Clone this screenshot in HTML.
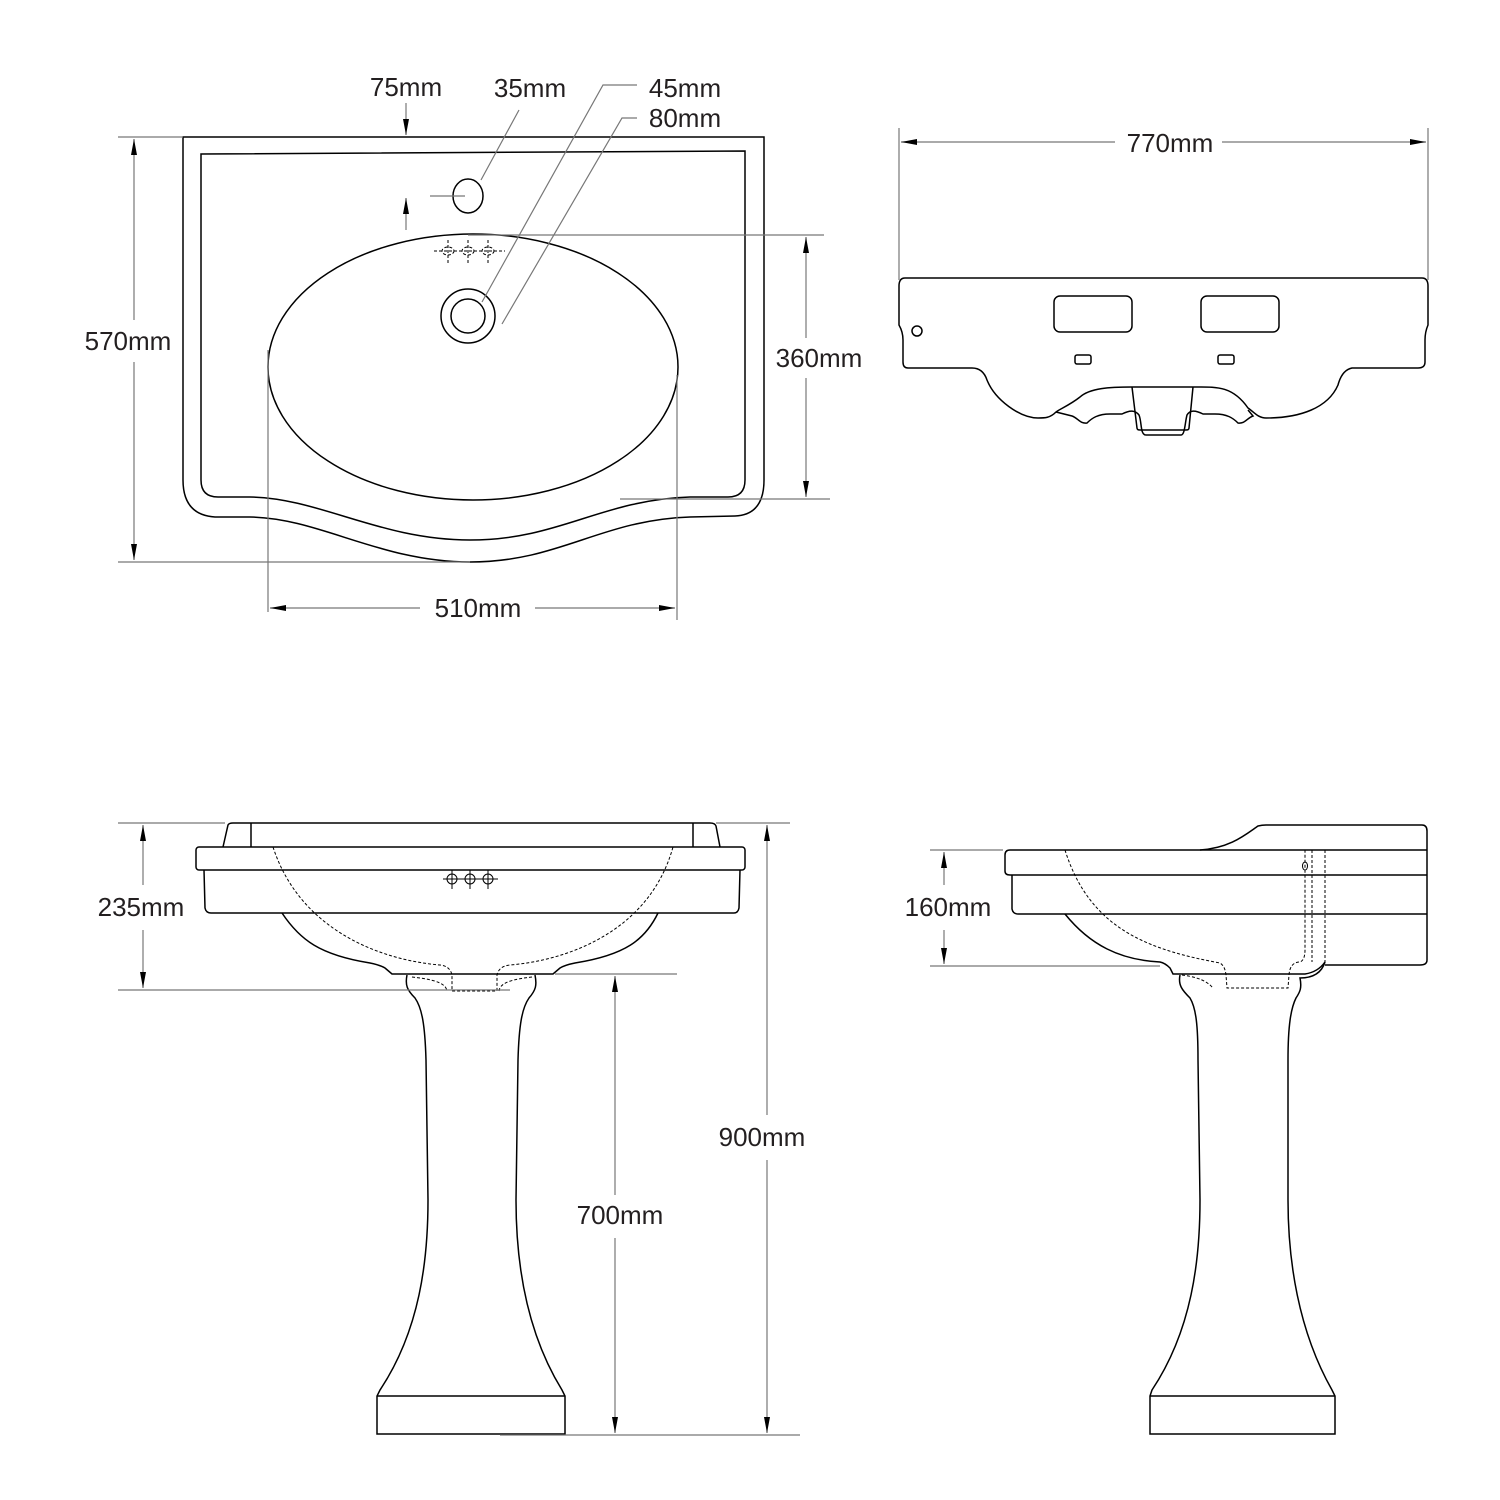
<!DOCTYPE html>
<html><head><meta charset="utf-8"><style>
html,body{margin:0;padding:0;background:#fff}
svg{display:block}
text{font-family:"Liberation Sans",sans-serif;font-size:26px;fill:#231f20}
</style></head><body>
<svg width="1500" height="1500" viewBox="0 0 1500 1500" xmlns="http://www.w3.org/2000/svg">
<defs>
<marker id="a" viewBox="0 0 16 6" refX="16" refY="3" markerWidth="16" markerHeight="6" markerUnits="userSpaceOnUse" orient="auto-start-reverse" preserveAspectRatio="none"><path d="M0,0 L16,3 L0,6 z" fill="#000"/></marker>
</defs>
<g fill="none" stroke="#000" stroke-width="1.5">
<path d="M183,137 L764,137 L764,480 Q764,515 735,516 L690,517 C600,520 560,562 470,562 C380,562 320,518 250,517 L215,517 Q183,515 183,480 Z"/>
<path d="M201,154 L745,151 L745,480 Q745,497 728,497 L690,497 C600,500 560,540 470,540 C380,540 320,498 250,497 L218,497 Q201,497 201,480 Z"/>
<ellipse cx="473" cy="367" rx="205" ry="133"/>
<ellipse cx="468" cy="196" rx="15" ry="17"/>
<circle cx="468" cy="316" r="27"/>
<circle cx="468" cy="316" r="17"/>
<g stroke-width="1" stroke-dasharray="3,2">
<ellipse cx="448" cy="251" rx="6" ry="4"/><ellipse cx="468" cy="251" rx="6" ry="4"/><ellipse cx="488" cy="251" rx="6" ry="4"/>
<path d="M434,251 H505 M448,240 V265 M468,240 V265 M488,240 V265"/>
</g>
<path d="M905,278 L1422,278 Q1428,278 1428,286 L1428,325 Q1425,332 1425,340 L1425,362 Q1425,368 1418,368 L1352,368 Q1342,370 1338,385 C1328,408 1300,418 1266,418 C1258,418 1254,412 1248,408 C1232,385 1215,387 1193,387 L1132,387 C1110,387 1090,388 1080,397 C1070,405 1058,410 1056,412 C1050,418 1045,418 1038,418 C1020,418 995,400 987,380 Q983,368 972,368 L908,368 Q903,368 903,362 L903,340 Q903,332 899,325 L899,286 Q899,278 905,278 Z"/>
<path d="M1056,412 L1072,416 C1078,418 1080,424 1087,423 C1092,418 1098,414 1110,414 L1122,414 C1130,410 1135,410 1139,415 C1142,422 1140,435 1146,435 L1181,435 C1185,435 1185,422 1187,415 C1190,410 1195,410 1203,414 L1215,414 C1227,414 1233,418 1238,423 C1245,424 1247,418 1253,416 L1248,410"/>
<path d="M1132,387 L1137,428 Q1137,430 1140,430 L1186,430 Q1189,430 1189,428 L1193,387"/>
<rect x="1054" y="296" width="78" height="36" rx="6"/>
<rect x="1201" y="296" width="78" height="36" rx="6"/>
<rect x="1075" y="355" width="16" height="9" rx="2"/>
<rect x="1218" y="355" width="16" height="9" rx="2"/>
<circle cx="917" cy="331" r="5"/>
<path d="M223,847 L228,825 Q229,823 233,823 L710,823 Q715,823 716,826 L720,847"/>
<path d="M251,823 V847 M693,823 V847"/>
<rect x="196" y="847" width="549" height="23" rx="3"/>
<path d="M204,870 L205,908 Q206,913 211,913 L734,913 Q738,913 739,908 L740,870"/>
<path d="M282,913 C300,940 320,955 370,963 Q380,965 385,968 L392,974 L553,974 L560,968 Q565,965 575,963 C625,955 645,940 658,913"/>
<path d="M407,975 C405,985 407,990 415,998 C422,1008 425,1025 426,1060 L428,1200 C428,1260 420,1330 380,1390 L377,1396 L377,1434 L565,1434 L565,1396 L562,1390 C525,1330 516,1260 516,1200 L518,1060 C519,1025 522,1008 529,998 C536,990 537,985 535,975"/>
<path d="M377,1396 H565"/>
<g stroke-width="1" stroke-dasharray="3,2">
<path d="M273,847 C300,930 380,960 440,965 Q450,966 452,975 L452,991 L497,991 L497,975 Q499,966 510,965 C570,960 650,930 673,847"/>
<path d="M412,977 C440,980 446,985 447,991"/>
<path d="M532,977 C505,980 500,985 499,991"/>
</g>
<g stroke-width="1"><circle cx="452" cy="879" r="5"/><circle cx="470" cy="879" r="5"/><circle cx="488" cy="879" r="5"/><path d="M443,879 H498 M452,870 V889 M470,870 V889 M488,870 V889"/></g>
<path d="M1200,850 C1230,848 1245,835 1258,826 Q1262,825 1266,825 L1422,825 Q1427,825 1427,831 L1427,960 Q1427,965 1420,965 L1325,965"/>
<path d="M1427,850 H1010 Q1005,850 1005,855 L1005,871 Q1005,875 1010,875 H1427"/>
<path d="M1012,875 L1012,909 Q1013,914 1018,914 L1427,914"/>
<path d="M1065,914 C1090,945 1120,960 1160,962 Q1165,963 1170,968 L1173,974 L1305,974 Q1318,972 1325,962"/>
<path d="M1180,975 C1178,985 1182,990 1190,998 C1196,1008 1198,1025 1198,1060 L1200,1200 C1200,1260 1192,1330 1152,1390 L1150,1396 L1150,1434 L1335,1434 L1335,1396 L1332,1390 C1298,1330 1288,1260 1288,1200 L1288,1060 C1288,1025 1291,1008 1296,998 C1300,992 1302,988 1300,978 Q1320,978 1325,962"/>
<path d="M1150,1396 H1335"/>
<ellipse cx="1305" cy="866" rx="2.5" ry="4" stroke-width="1"/>
<g stroke-width="1" stroke-dasharray="3,2">
<path d="M1065,850 C1090,930 1150,950 1220,963 Q1225,966 1226,975 L1227,988 L1288,988 L1289,975 Q1290,962 1300,962 Q1305,960 1305,950 L1305,850"/>
<path d="M1312,850 V962 M1325,850 V962"/>
<path d="M1182,975 C1205,978 1210,985 1213,988"/>
</g>
</g>
<g fill="none" stroke="#777" stroke-width="1.2">
<path d="M118,137 H183 M118,562 H470 M468,235 H824 M620,499 H830"/>
<path d="M268,350 V612 M677,375 V620"/>
<path d="M430,196 H465"/>
<path d="M899,128 V280 M1428,128 V280"/>
<path d="M118,823 H225 M716,823 H790 M118,990 H510 M555,974 H677 M500,1435 H800"/>
<path d="M930,850 H1003 M930,966 H1160"/>
<path d="M519,110 L481,180 M482,302 L603,85 H637 M502,324 L622,118 H637"/>
</g>
<g fill="none" stroke="#777" stroke-width="1.2">
<path d="M134,320 V139" marker-end="url(#a)"/><path d="M134,362 V560" marker-end="url(#a)"/>
<path d="M806,338 V237" marker-end="url(#a)"/><path d="M806,378 V497" marker-end="url(#a)"/>
<path d="M420,608 H270" marker-end="url(#a)"/><path d="M535,608 H675" marker-end="url(#a)"/>
<path d="M406,103 V135" marker-end="url(#a)"/>
<path d="M406,230 V198" marker-end="url(#a)"/>
<path d="M1115,142 H901" marker-end="url(#a)"/><path d="M1222,142 H1426" marker-end="url(#a)"/>
<path d="M143,885 V825" marker-end="url(#a)"/><path d="M143,930 V988" marker-end="url(#a)"/>
<path d="M767,1115 V825" marker-end="url(#a)"/><path d="M767,1160 V1433" marker-end="url(#a)"/>
<path d="M615,1195 V976" marker-end="url(#a)"/><path d="M615,1238 V1433" marker-end="url(#a)"/>
<path d="M944,885 V852" marker-end="url(#a)"/><path d="M944,930 V964" marker-end="url(#a)"/>
</g>
<g text-anchor="middle">
<text x="406" y="96">75mm</text>
<text x="530" y="97">35mm</text>
<text x="685" y="97">45mm</text>
<text x="685" y="127">80mm</text>
<text x="128" y="350">570mm</text>
<text x="819" y="367">360mm</text>
<text x="478" y="617">510mm</text>
<text x="1170" y="152">770mm</text>
<text x="141" y="916">235mm</text>
<text x="762" y="1146">900mm</text>
<text x="620" y="1224">700mm</text>
<text x="948" y="916">160mm</text>
</g>
</svg>
</body></html>
